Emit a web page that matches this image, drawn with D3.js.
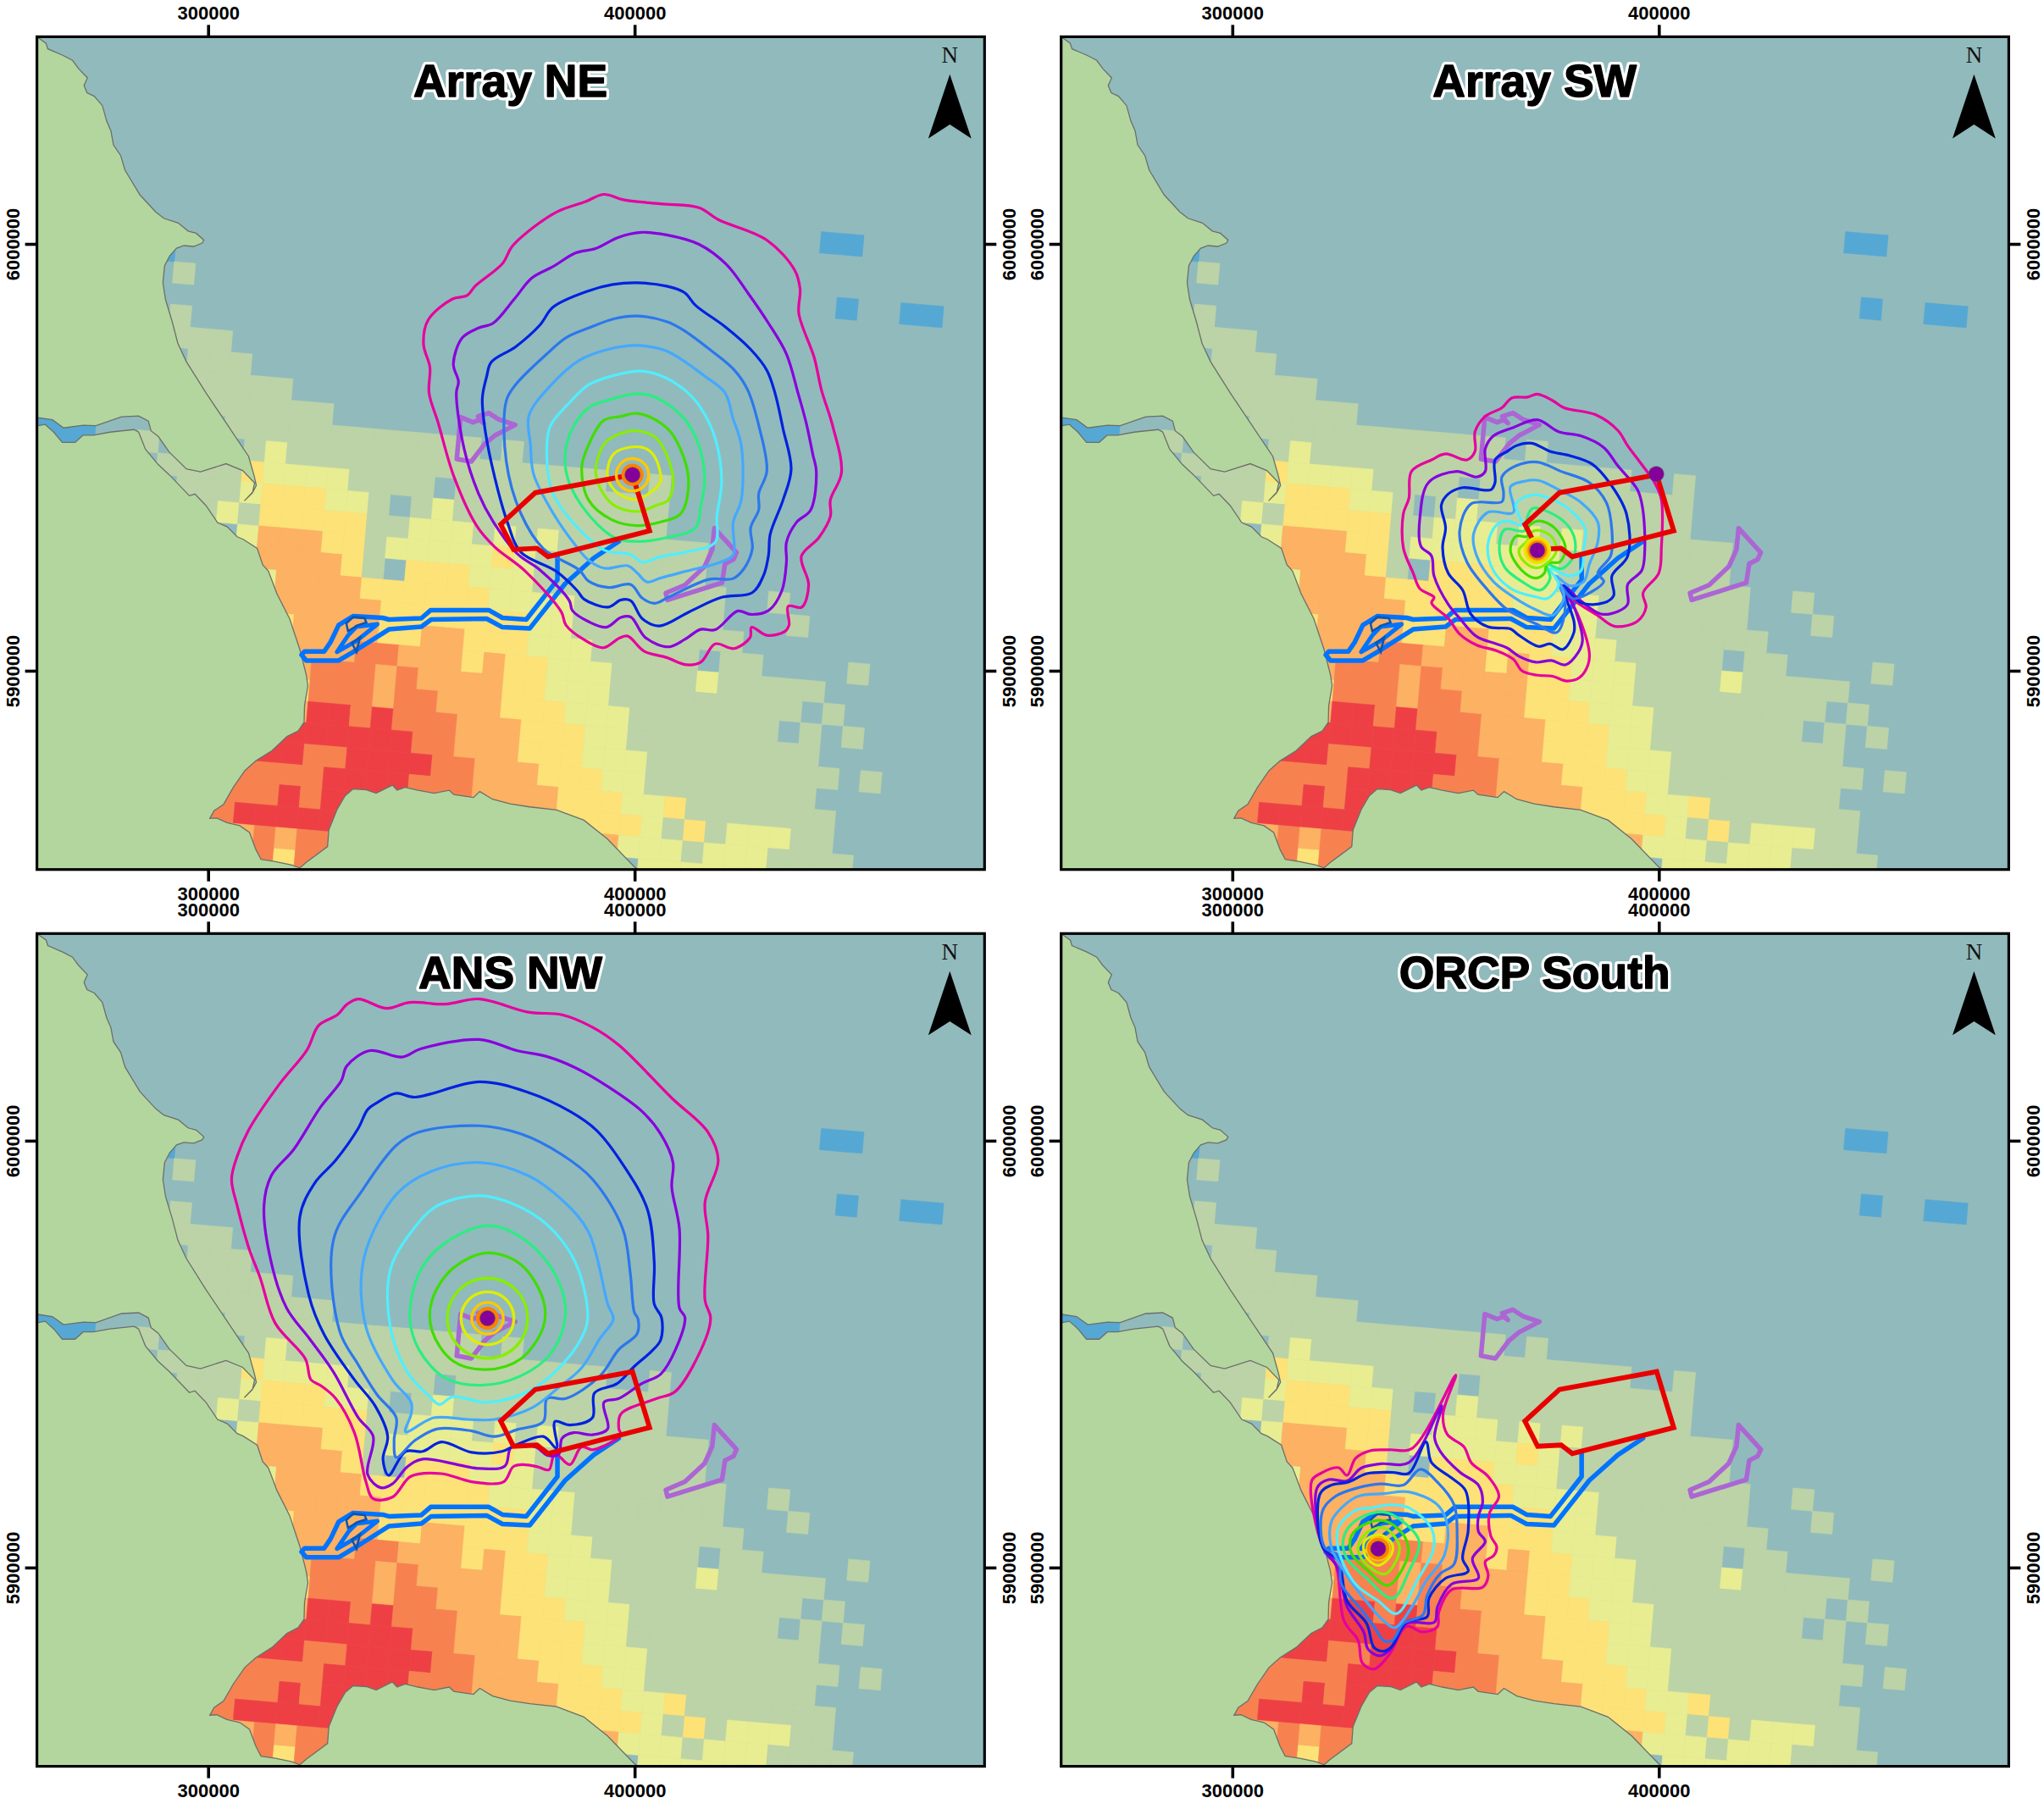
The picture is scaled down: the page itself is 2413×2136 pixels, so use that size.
<!DOCTYPE html>
<html>
<head>
<meta charset="utf-8">
<script src="https://cdnjs.cloudflare.com/ajax/libs/d3/7.8.5/d3.min.js"></script>
<style>
    html, body { margin: 0; padding: 0; background: #fff; }
    svg { display: block; }
    text { font-family: "Liberation Sans", Arial, sans-serif; }
</style>
</head>
<body>
<div id="chart"></div>
<script>
// All map values are in km (UTM easting / northing)
const xDomain = [259.86, 482.05];
const yDomain = [5853.43, 6048.53];
const xTicks = [300, 400];
const yTicks = [5900, 6000];

const classColors = { b: '#55a8d3', g: '#bcd3a7', y: '#e8ed92', Y: '#fde277', o: '#fdb162', r: '#f78250', R: '#ee4044' };
const levelColors = ['#e6009e', '#8800dd', '#0022e0', '#2c77ee', '#44a8ff', '#50eeff', '#2aee80', '#40dd00', '#88ee00', '#ddee00', '#ffc800', '#ff8000'];

// raster grid, 5 km cells, rotated ~5 deg
const gridOrigin = [292.06, 5995.85];
const gridEast = [5.0, -0.43];
const gridSouth = [-0.43, -4.98];

// [row, class, first column, last column]; anything not listed is the sea colour
const rasterRuns = [
    [-4,'b',30,31],
    [-1,'b',-1,-1],[-1,'b',31,31],[-1,'b',34,35],
    [0,'g',0,0],
    [2,'g',0,0],
    [3,'g',0,2],
    [4,'g',1,3],
    [5,'g',1,5],
    [6,'g',1,7],
    [7,'b',-8,-4],[7,'g',3,14],[7,'g',16,16],
    [8,'b',-8,-4],[8,'g',-1,-1],[8,'g',4,4],[8,'y',5,5],[8,'g',6,20],[8,'g',23,23],
    [9,'b',-8,-4],[9,'g',0,3],[9,'Y',4,4],[9,'y',5,8],[9,'g',9,12],[9,'g',14,23],
    [10,'g',1,3],[10,'y',4,4],[10,'Y',5,7],[10,'y',8,9],[10,'g',10,10],[10,'g',12,12],[10,'y',13,13],[10,'g',14,23],
    [11,'g',1,2],[11,'y',3,3],[11,'g',4,4],[11,'Y',5,9],[11,'g',10,11],[11,'y',12,14],[11,'g',15,15],[11,'y',16,16],[11,'g',17,17],[11,'y',18,18],[11,'g',19,25],
    [12,'y',4,4],[12,'o',5,7],[12,'Y',8,9],[12,'g',10,10],[12,'y',11,15],[12,'Y',16,16],[12,'y',17,17],[12,'g',18,25],
    [13,'y',4,4],[13,'o',5,8],[13,'Y',9,9],[13,'g',10,10],[13,'Y',12,14],[13,'y',15,17],[13,'g',18,26],[13,'g',29,29],
    [14,'y',5,5],[14,'o',6,9],[14,'Y',10,15],[14,'y',16,19],[14,'g',20,26],[14,'g',30,30],
    [15,'o',5,10],[15,'Y',11,17],[15,'y',18,19],[15,'g',20,27],
    [16,'Y',6,6],[16,'o',7,10],[16,'Y',11,12],[16,'o',13,14],[16,'Y',15,17],[16,'y',18,20],[16,'g',21,25],[16,'g',27,28],[16,'g',33,33],
    [17,'o',6,9],[17,'r',10,11],[17,'o',12,14],[17,'Y',15,15],[17,'o',16,16],[17,'Y',17,18],[17,'y',19,21],[17,'g',22,25],[17,'y',26,26],[17,'g',27,31],
    [18,'o',6,7],[18,'r',8,10],[18,'o',11,11],[18,'r',12,12],[18,'o',13,16],[18,'Y',17,18],[18,'y',19,21],[18,'g',22,30],[18,'g',32,32],
    [19,'Y',6,7],[19,'r',8,10],[19,'o',11,11],[19,'r',12,13],[19,'o',14,16],[19,'Y',17,19],[19,'y',20,22],[19,'g',23,29],[19,'g',31,31],[19,'g',33,33],
    [20,'o',6,7],[20,'R',8,9],[20,'r',10,10],[20,'R',11,11],[20,'r',12,14],[20,'o',15,17],[20,'Y',18,20],[20,'y',21,22],[20,'g',23,31],
    [21,'R',6,12],[21,'r',13,14],[21,'o',15,17],[21,'Y',18,20],[21,'y',21,23],[21,'g',24,32],[21,'g',34,34],
    [22,'R',5,7],[22,'r',8,9],[22,'R',10,13],[22,'r',14,15],[22,'o',16,18],[22,'Y',19,21],[22,'y',22,23],[22,'g',24,31],
    [23,'r',4,8],[23,'R',9,12],[23,'r',13,15],[23,'o',16,19],[23,'Y',20,22],[23,'y',23,24],[23,'Y',25,25],[23,'g',26,32],
    [24,'r',4,6],[24,'R',7,7],[24,'r',8,8],[24,'R',9,10],[24,'r',11,15],[24,'o',16,19],[24,'Y',20,23],[24,'y',24,24],[24,'g',25,25],[24,'Y',26,26],[24,'g',27,27],[24,'y',28,30],[24,'g',31,32],
    [25,'r',3,4],[25,'R',5,10],[25,'o',11,22],[25,'y',23,25],[25,'g',26,26],[25,'y',27,29],[25,'g',30,33],
    [26,'o',4,5],[26,'r',6,6],[26,'o',7,7],[26,'r',8,9],[26,'y',24,29],[26,'g',30,33],
    [27,'r',5,6],[27,'Y',7,7],[27,'r',8,9],[27,'y',24,29],[27,'g',30,33]
];

const northLand = [[259,6049],[260.3,6048.2],[262,6047],[262.4,6045.7],[265.9,6044.2],[268.2,6043],[269.6,6041.1],[271.7,6038.9],[270.9,6037.1],[271.6,6035.4],[273.3,6034.6],[275.2,6032.4],[276.2,6028.8],[277.2,6026.5],[277.8,6023.2],[279.5,6020.7],[280.5,6017.3],[284,6011.5],[287.7,6007.5],[289.6,6006],[293,6004.9],[295.3,6003],[297.2,6002.5],[299,6000.9],[298.6,6000.2],[296.6,5999.4],[294.3,5999.6],[292.6,5999],[291,5997.2],[289.8,5994.9],[289.4,5990.9],[290,5987],[291.6,5981.7],[292.9,5976.7],[294.9,5972.4],[299.5,5965.1],[304.8,5957.2],[309.5,5950.2],[310.8,5945.6],[311.3,5943.4],[310.5,5941.9],[308.5,5939.8],[310.4,5941.7],[310.9,5944],[308.1,5946.9],[304.2,5948.5],[298.2,5946.6],[294.9,5947.3],[290.9,5951.2],[288.3,5954.9],[286.6,5956.2],[286,5958.5],[283.7,5959.7],[279.7,5959.5],[273.7,5957.4],[270.7,5957.5],[266.1,5956.9],[263.5,5958.8],[260.1,5959.3],[259,5959.3]];

const southLand = [[259,5957.4],[260.1,5957.4],[261.8,5957.7],[263.8,5955.9],[265.8,5953.5],[268.8,5953.5],[270.7,5955.2],[273.1,5955.2],[277,5955.9],[282.6,5956.5],[283.7,5955.9],[285.3,5951.9],[288.3,5948.3],[290.9,5945.9],[295.6,5941],[296.9,5941.4],[299.5,5938.7],[302.2,5934.7],[304.5,5933.7],[306.8,5931.4],[308.2,5930.8],[311.5,5928.7],[312.8,5924.8],[314.1,5923.4],[315.1,5920.8],[316.1,5918.1],[319.1,5912.2],[321.5,5905],[323,5899.1],[323.4,5896.5],[322.6,5891.8],[322.5,5887.9],[321.1,5885.9],[318.5,5884.6],[315,5881.3],[311.2,5878.9],[308.6,5876.6],[305.9,5872.7],[303.6,5868.7],[301.4,5867.2],[300.4,5865.4],[302,5865.5],[304.4,5864.4],[307.4,5863.7],[309.7,5862.1],[311.2,5858.1],[312.4,5855.8],[315.8,5855.3],[319.6,5854.5],[321.5,5853.8],[323,5855.1],[328,5858.8],[328.3,5862.7],[330.2,5867.4],[332.1,5870.7],[334,5872.3],[337.1,5872.1],[339.4,5871.3],[343.2,5873.2],[344.3,5872],[346.2,5872.7],[349.2,5872],[353,5871.3],[356.5,5872],[357.6,5871],[362.2,5870.3],[363.7,5871.7],[366.7,5869.9],[370.8,5868.8],[375.4,5868.1],[381.7,5867.4],[388.1,5865],[393.6,5860.6],[400,5854],[401.4,5853],[259,5853]];

const arrayOutline = [[399.5,5945.9],[403.5,5932.8],[379.7,5926.7],[377.1,5928.7],[371.6,5928.4],[368.6,5934.3],[376.7,5941.7]];
const farmNorth = [[359.2,5959.4],[362.1,5958.2],[363.6,5958.8],[364.6,5958],[363.3,5959.6],[365.8,5960.4],[368.1,5958.9],[372,5957.6],[367.2,5955.1],[364.9,5953.2],[361.7,5949],[358.3,5949.6]];
const farmEast = [[418.7,5933.4],[423.9,5927.7],[423.2,5926.1],[421.2,5925.1],[420.5,5920.6],[407.7,5916.6],[407.3,5918.2],[411.8,5920.1],[416.4,5924.4],[418.2,5928.4]];
const cableRoute = [[381.9,5927],[381.9,5921.3],[374.6,5912],[369,5912.4],[365.8,5914.2],[352.2,5914.2],[350,5912.3],[342.4,5912],[340.9,5912.4],[334,5912.8],[330.6,5910.7],[328.7,5906.7],[327.2,5904.5],[322.6,5904.5],[321.9,5903.7],[323,5902.4],[330.6,5902.4],[334,5904.4],[342.4,5909.7],[350,5910.3],[352.3,5912],[365.3,5912.2],[369,5910.2],[375.4,5909.9],[383.7,5920.4],[390.4,5926.4],[396.3,5930.3]];
const cableLoop = [[330.2,5904.4],[332.9,5908.4],[334.8,5910.3],[339.7,5910.9],[334.8,5907]];
const landfallA = [[332.4,5911.1],[334,5912.6],[336.7,5912.3],[337.1,5911.3],[335.2,5910.7],[332.8,5909.3]];
const landfallB = [[333.7,5906.5],[335.6,5907.8],[334.8,5904.4]];

// contours per scenario, outermost first
const contoursNE = [
    [[392.7,6011.6],[397.6,6010.3],[406,6009.4],[415.1,6008.5],[419.6,6005.7],[431,6000.9],[437.5,5993.9],[438.8,5989.4],[438.5,5983.7],[442.1,5973.4],[443.8,5965.8],[446.4,5957.5],[448.5,5946.4],[445.9,5940],[445.9,5936.2],[443.2,5931.2],[439.1,5926.8],[440.8,5920.2],[439.2,5914.9],[436,5915.1],[436.2,5910.7],[435.2,5909.2],[431,5908.3],[427.4,5910.2],[427.1,5907.8],[423.3,5905.2],[418.9,5906.3],[415.5,5902],[412.2,5901.4],[407.5,5903.1],[402.2,5904.6],[398.4,5908.1],[396.5,5907.7],[392.7,5905.4],[388.1,5907.3],[383.9,5910.7],[382.8,5913.8],[374.4,5923.3],[367.2,5929],[363,5933.9],[357.7,5945.3],[353.9,5958.2],[351.8,5965.1],[352,5971.1],[350.5,5976.5],[351.6,5982.2],[357.3,5987.1],[360.7,5987.9],[362.6,5990.1],[369.1,5995.5],[371.2,5999.3],[376.7,6004.2],[382,6007.6],[388.5,6009.9]],
    [[401.4,6002.7],[407.5,6002.1],[415.1,5999.9],[421.5,5995.2],[426.5,5988.6],[431.4,5981.4],[435.6,5974.2],[438.3,5965.1],[440.2,5958.2],[441.8,5950.6],[442.6,5946.8],[441.3,5937.7],[437.9,5934.7],[435.6,5930.1],[435.6,5925.5],[434.5,5918.7],[431.4,5914.1],[427.2,5913.2],[424.2,5914],[418.9,5909.6],[415.5,5909.7],[411.7,5907.3],[407.9,5905.6],[402.5,5907.8],[399.1,5912.6],[396.8,5912.5],[393.4,5910.2],[389.2,5911.5],[385.4,5914.1],[384.7,5916.4],[377.8,5923.6],[372.5,5927.4],[366.8,5935],[363.4,5941.5],[360,5952.1],[358.2,5965.1],[358.7,5967.7],[357.5,5971.9],[359.6,5978],[363.4,5980.3],[366.8,5981.4],[371.8,5987.1],[375.9,5992],[380.9,5994.7],[386.2,5997.9],[390.8,5998.9],[396.1,6001.5]],
    [[394.9,5990.5],[400.6,5990.9],[407.5,5990.1],[411.7,5988.6],[414.3,5985.6],[421.2,5980.6],[427.2,5975.3],[431,5970.4],[432.9,5965.1],[434.8,5956.7],[436.7,5947.2],[434.8,5940],[431.8,5932],[431.4,5927.1],[430.3,5922.5],[427.6,5918.3],[420.4,5917.2],[412.8,5913.8],[405.8,5910.5],[401.8,5912.2],[399.1,5916.4],[396.8,5916.6],[393.8,5914.9],[388.1,5916.8],[386.6,5918.7],[381.6,5923.3],[373.3,5927.8],[370.2,5934.7],[367.2,5945.3],[364.9,5956.7],[364.3,5963.9],[365.3,5968.9],[366.4,5972.3],[372.1,5975.9],[377.8,5981],[380.9,5985.2],[389.2,5989]],
    [[400.6,5983.1],[407.5,5981.8],[411.3,5979.9],[418.1,5974.9],[423.4,5970.4],[426.5,5965.8],[429.1,5957.5],[431,5946.8],[429.1,5941.5],[429.1,5937.7],[427.2,5933.5],[427.6,5928.6],[425.7,5924],[423.1,5921.6],[417.4,5921.4],[407.9,5917.2],[404.8,5915.8],[401.8,5917],[399.1,5920.2],[393.8,5919.5],[389.2,5921],[387,5923.6],[378.6,5928.6],[373.3,5936.9],[369.9,5949.1],[369.9,5963.2],[372.1,5967],[379.4,5974.2],[383.9,5978],[389.2,5980.3],[395.3,5982.5]],
    [[400.6,5976.2],[407.5,5974.9],[416.6,5968.9],[421.2,5965.1],[423.1,5959],[425,5952.9],[425,5940],[423.1,5934.7],[423.1,5927.1],[420,5925.4],[412,5923.3],[406,5921.7],[402.9,5920.8],[400.6,5922.9],[398.4,5924.6],[393,5924],[389.2,5925.9],[386.2,5929.3],[380.9,5936.9],[376.3,5946.1],[375.6,5952.9],[375.2,5959.7],[380.1,5966.6],[387,5972.7],[393.8,5975.3]],
    [[401.4,5970.2],[406,5969.2],[411.7,5965.8],[415.5,5961.6],[418.9,5954.4],[420.4,5944.5],[419.3,5936.2],[418.9,5930.1],[412,5927.8],[406,5926.7],[401.8,5925.4],[399.1,5927.2],[393,5928.2],[387.7,5932.4],[380.9,5941.5],[379.4,5952.1],[380.3,5957.5],[384.7,5962.8],[389.2,5967],[395.3,5969.2]],
    [[400.6,5964.9],[405.2,5963.9],[411.7,5959],[415.5,5951.4],[416.4,5944.5],[415.5,5938.5],[414.3,5933.5],[407.5,5931.2],[401,5930.3],[395.3,5931.2],[387.7,5938.5],[383.9,5946.8],[384.7,5955.2],[389.2,5961.6],[393.8,5963.4]],
    [[400.6,5960.3],[405.2,5958.6],[409,5955.2],[412.6,5945.3],[410.9,5936.9],[406.7,5935],[400.6,5934],[394.6,5935.4],[389.2,5940],[387.6,5947.6],[389.2,5952.9],[392.7,5958.6],[396.8,5959.6]],
    [[400.6,5956.2],[405.2,5954.4],[409,5945.3],[407.9,5940],[405.2,5938.8],[400.6,5937.3],[394.6,5939.2],[390.9,5946.1],[393,5953.3],[396.8,5955.6]],
    [[401.4,5952.4],[404.4,5950.6],[406.1,5944.5],[404.4,5942.3],[399.9,5940.1],[395.3,5942.3],[393.6,5946.1],[395.3,5951]]
];
const contoursSW = [
    [[371.5,5964.8],[375.1,5963.3],[377.8,5961.6],[385.1,5960],[390.4,5956.3],[392.7,5952.7],[395.7,5948.7],[399,5944.1],[400.6,5940.1],[400.6,5928.8],[400,5922.9],[396.3,5918.2],[397,5914.9],[395,5911.6],[389.7,5910.4],[385.7,5912.9],[380.4,5916.3],[378.1,5918.6],[381.1,5912.9],[383.7,5904.3],[383.4,5901.4],[381.4,5898.4],[378.4,5897.6],[375.1,5898.7],[371.2,5899],[367.9,5900],[365.9,5902.7],[361.9,5904.7],[357.3,5906],[353.3,5908.6],[350.6,5912.3],[346.7,5915.9],[347.3,5917.2],[344,5919.2],[342.4,5922.9],[340.1,5928.8],[340.1,5936.8],[341.4,5940.4],[342,5946.7],[346.7,5949.4],[350,5950.8],[355,5949.4],[356.9,5951.4],[356.9,5956],[359.3,5959.6],[363.2,5961.6],[365.5,5963.9],[369.2,5964.1]],
    [[371.5,5958.8],[376.5,5956],[381.8,5955],[387.1,5952.3],[390.4,5948],[395,5942.4],[396.2,5938.1],[396.7,5928.2],[396,5923.5],[392.7,5920.2],[392.7,5915.6],[390.4,5913.9],[386.4,5913.3],[381.8,5916.3],[377.8,5919.9],[380.4,5914.3],[382.1,5907],[381.1,5904.3],[378.1,5901.4],[374.8,5902.4],[371.2,5902],[367.2,5903.4],[364.5,5905.3],[361.9,5906.3],[357.3,5908],[353.3,5912.3],[350.6,5915.6],[347.3,5922.2],[346.7,5926.9],[344.2,5929.2],[344,5936.1],[346,5944.1],[352.6,5946.7],[357.3,5945.4],[359.3,5946.7],[359.3,5952],[361.2,5955],[365.9,5957]],
    [[370.2,5953.3],[374.5,5951.4],[379.1,5950.4],[384.4,5948.4],[388.4,5944.1],[392.4,5936.8],[392.7,5926.9],[389,5922.2],[389.4,5917.6],[387.1,5915.9],[381.8,5915.9],[377.5,5919.9],[380.1,5911.6],[380.1,5909],[377.5,5905],[374.5,5906.3],[371.8,5905.7],[367.2,5908.3],[365.2,5909.8],[359.9,5910.3],[355.9,5913.3],[354,5918.9],[350.6,5922.9],[349.3,5928.8],[350,5933.5],[349,5938.8],[350.6,5941.4],[354,5942.9],[360.6,5942.4],[361.6,5944.1],[361.6,5949.4],[364.5,5951.4],[366.5,5952.7]],
    [[371.5,5948.9],[377.1,5946.7],[383.7,5944.1],[387.7,5939.4],[389,5932.8],[388.7,5926.9],[385.7,5922.9],[387.1,5920.9],[384.4,5918.6],[379.8,5916.9],[376.8,5920.2],[378.1,5915.6],[376.1,5909],[371.2,5911],[364.5,5914.3],[359.9,5918.9],[355,5925.5],[353.3,5932.8],[356,5939.1],[363.2,5939.6],[363.6,5941.7],[363.2,5945.4],[366.5,5948]],
    [[371.8,5944.6],[376.5,5942.4],[381.8,5939.4],[385.7,5934.8],[385.7,5930.2],[383.7,5924.9],[382.4,5920.9],[379.1,5919.9],[375.8,5922.2],[377.8,5917.6],[375.1,5913],[371.2,5914.3],[366.5,5916.9],[361.2,5920.9],[357.3,5926.9],[356.6,5932.2],[359.9,5937.1],[365.9,5937.1],[365.2,5943.1],[368.5,5944.4]],
    [[370.5,5941.2],[375.1,5940.1],[379.8,5937.1],[382.8,5933.1],[382.4,5928.8],[381.8,5923.5],[379.1,5922.2],[374.5,5923.9],[376.5,5920.2],[373.8,5916.9],[371.2,5917.3],[365.9,5918.9],[361.2,5923.5],[359.9,5929.5],[361.9,5934.1],[364.5,5935.1],[367.9,5934.1],[366.5,5939.1]],
    [[370.5,5938.1],[377.1,5935.5],[380.1,5931.5],[380.1,5926.9],[377.1,5923.9],[373.8,5924.9],[374.5,5921.6],[372.2,5918.9],[367.9,5920.9],[363.9,5924.2],[362.6,5928.8],[363.9,5933.1],[368.5,5932.8],[369.2,5936.1]],
    [[371.8,5935.1],[375.5,5933.5],[378.1,5928.8],[376.8,5925.5],[373.8,5925.2],[373.2,5922.9],[371.2,5921.7],[367.9,5923.5],[365.2,5928.2],[366.5,5931.5],[369.2,5931.5],[369.5,5933.8]],
    [[371.8,5932.9],[374.8,5931.5],[376,5928.2],[373.8,5925.2],[371.2,5924.1],[368.5,5925.5],[367.2,5928.2],[369.2,5930.5],[370.2,5932.5]]
];
const contoursNW = [
    [[335.2,6033.2],[341.8,6031],[347.2,6032.4],[355.6,6032],[363.6,6033.2],[375.1,6030.1],[383,6029.5],[390.1,6026.6],[396.3,6022.4],[408.7,6010],[417.2,6002],[419.6,5995.4],[416.5,5985.6],[417.2,5977.7],[416.5,5962.6],[417.8,5958.6],[416.7,5953.7],[409.6,5941.3],[405.2,5939.6],[396.8,5936],[396.3,5932.5],[396.8,5931.1],[392.8,5928.5],[390.1,5927.6],[387.5,5928.2],[384.8,5924.1],[381.3,5926.7],[379.9,5922.9],[377.3,5923.6],[373.7,5924.1],[371.5,5923.6],[369.3,5920.1],[361.8,5920.1],[354.7,5922],[347.6,5921.4],[343.2,5916.5],[338.7,5916.1],[337,5920.1],[334.3,5931.6],[329.9,5939.6],[326.3,5942.7],[324.1,5944],[322.8,5948.9],[315.7,5957.3],[312.2,5967.9],[309.5,5975],[306.8,5984.8],[305.5,5991],[306.8,5996.3],[309.5,6002.5],[316.6,6013.1],[323.2,6021.3],[325.9,6027],[330.3,6029.5],[332.5,6031.9]],
    [[337.9,6021.1],[345.4,6019.6],[349.8,6021.5],[363.6,6023.7],[372.4,6021.1],[379.5,6019.7],[386.1,6017.1],[393.7,6012.7],[401.7,6006.9],[406.1,6001.6],[409,5994.9],[408.7,5989.2],[410.5,5979.4],[410.5,5960.8],[411.8,5958.6],[409.6,5951.1],[406.1,5945.3],[401.7,5943.1],[396.3,5939.6],[392.8,5938.7],[393.7,5932.5],[390.1,5931.1],[385.7,5931.6],[383,5930.3],[382.2,5926.5],[379.5,5926.3],[376.8,5928.2],[371.1,5928.2],[369.6,5923.8],[363.6,5923.2],[350.3,5925.4],[346.7,5923.6],[343.2,5919.6],[340.5,5918.7],[337.4,5921.8],[338.7,5930.7],[335.2,5935.1],[329.4,5945.8],[323.7,5953.7],[318.4,5960.8],[314.8,5971.5],[313.1,5984.8],[314.8,5991.8],[320.1,5998],[326.3,6007.8],[331.2,6014],[332.5,6017.5]],
    [[339.6,6008.9],[344.1,6011.1],[348.5,6010.2],[363.6,6013.8],[375.1,6011.3],[384.8,6006.9],[391,6002.5],[397.2,5994.5],[403,5983.9],[404.6,5971.5],[404.6,5961.7],[406.3,5958.6],[406.1,5953.3],[403.9,5950.6],[399.9,5947.1],[395.9,5943.1],[390.6,5940.9],[390.1,5935.1],[384.8,5933.4],[381.3,5934.2],[381.7,5928],[378.6,5930.7],[372.4,5928.8],[368.9,5927.2],[361.8,5927],[354.7,5929.4],[350.3,5927.2],[346.3,5927.2],[342.3,5921.6],[341,5925.4],[342.1,5930.7],[339.2,5937.8],[334.3,5944],[327.2,5954.6],[323.7,5963.5],[321.5,5982.1],[325,5990.1],[329.9,5995.4],[335.2,6002.9],[337.4,6007.3]],
    [[349.4,6002],[363.6,6003.5],[373.3,6001.6],[383,5996.7],[390.1,5991],[397.2,5979.4],[399,5968.8],[399.9,5959.9],[400.8,5958.2],[400.6,5954.8],[396.3,5951.1],[391.9,5944.9],[383.9,5939.6],[379.5,5939.6],[378.6,5934.2],[372.4,5932.3],[367.1,5930.7],[361.8,5932],[353.8,5932.5],[348.5,5929.8],[344.1,5925.8],[343.6,5929.8],[344.1,5935.1],[339.6,5940.5],[335.2,5947.5],[330.8,5955.5],[329.4,5976.8],[336.1,5988.3],[344.1,5998.9]],
    [[363.6,5994.9],[375.1,5991.8],[383,5986.1],[389.2,5978.6],[393.7,5961.7],[395,5958.2],[391.9,5953.7],[387.5,5946.7],[382.2,5942.2],[375.9,5937.4],[367.1,5934.7],[360.9,5934.7],[352.9,5935.1],[346.3,5931.8],[347.6,5936],[347.6,5938.7],[343.2,5944],[337,5956.4],[336.5,5972.3],[344.1,5987.4],[352,5992.7]],
    [[363.6,5987.1],[371.5,5985.2],[379.5,5980.3],[386.1,5971.5],[389,5958.6],[387.5,5953.7],[382.2,5946.7],[375.1,5941.3],[365.3,5938.7],[357.4,5940],[354.2,5938.2],[352,5940],[346.7,5945.8],[342.7,5956.4],[342.7,5969.7],[347.6,5978.6],[353.8,5984.8]],
    [[365.5,5980.1],[374.2,5976.8],[381.3,5968.8],[383.8,5959.5],[380.4,5950.2],[373.3,5944.9],[364,5942.7],[355.6,5944.4],[349.4,5951.1],[347.3,5958.6],[349.4,5968.8],[354.7,5975.4]],
    [[365.5,5973.7],[373.3,5971],[378.6,5962.6],[378.6,5956.4],[373.3,5948.9],[365.3,5946.4],[357.4,5948.4],[352.5,5955.5],[352.5,5962.6],[357.4,5970.1]]
];
const contoursSouth = [
    [[352.4,5945.1],[349.4,5935.9],[350.4,5931.2],[354.3,5928.3],[356,5924.6],[360,5921.3],[362.5,5916.7],[360.3,5912.7],[360.6,5907.4],[362,5904.8],[361.3,5902.8],[359.3,5901.4],[360,5898.1],[358.7,5895.4],[351.4,5894.8],[348.4,5889.5],[348.1,5886.2],[344.7,5884.9],[340.8,5886.2],[336.8,5879.6],[333.2,5876.2],[330.5,5877.6],[329.5,5882.9],[326.2,5887.5],[324.2,5900.8],[321.2,5904.8],[318.6,5920.3],[320.6,5922],[324.9,5923.4],[326.9,5921.6],[328.9,5925.6],[332.5,5927.4],[336.8,5927.6],[342.1,5927.9]],
    [[349.1,5937.9],[347.4,5930.6],[348.7,5927.3],[353.4,5922.3],[357.7,5919.3],[358.7,5915.3],[357.7,5912],[357.7,5908.4],[359.3,5906.1],[356.3,5902.1],[357.7,5897.5],[351.4,5896.1],[348.1,5890.8],[347.4,5887.2],[340.8,5886.9],[336.8,5880.6],[334.5,5879.3],[331.8,5880.9],[330.8,5884.9],[326.9,5890.9],[324.6,5900.1],[321.2,5904.8],[319.9,5918.7],[322.6,5920.6],[326.9,5920.3],[330.2,5923.3],[334.8,5924.3],[341.4,5924.6]],
    [[345.4,5929.4],[346.7,5924.6],[351.4,5921],[354.7,5918],[355.3,5908.7],[354,5902.1],[355.3,5899.1],[350,5897.5],[346.1,5892.8],[345.7,5888.5],[340.8,5887.2],[337.5,5881.6],[335.5,5880.4],[333.2,5881.3],[331.5,5886.9],[326.9,5892.2],[324.9,5901.4],[321.2,5904.8],[320.6,5917.3],[323.2,5919.3],[327.2,5920],[331.5,5922],[337.5,5922.3],[341.4,5922.1]],
    [[344.1,5923],[348.1,5920],[352,5914.7],[352.7,5908.1],[352,5900.8],[348.7,5898.5],[345.7,5893.5],[344.7,5888.9],[340.1,5886.9],[337.5,5882.9],[335.5,5882.9],[333.2,5886.2],[330.2,5890.2],[325.6,5896.1],[324.9,5902.8],[321.6,5904.8],[321.2,5913.4],[324.2,5916.7],[329.5,5918.7],[334.8,5919.6],[340.1,5919.3]],
    [[341.4,5917.7],[348.1,5914.7],[350.4,5910],[349.7,5902.8],[345.4,5896.8],[342.1,5890.8],[338.1,5885.9],[335.5,5887.5],[330.8,5892.8],[325.6,5900.1],[323.2,5904.8],[323.2,5910.7],[325.6,5914],[329.5,5916.7],[335.5,5917.3]],
    [[336.8,5914.7],[341.4,5914],[346.7,5909.1],[347.1,5904.1],[343.4,5897.1],[338.5,5889.2],[334.2,5892.2],[328.9,5896.1],[324.9,5904.1],[324.9,5909.4],[328.9,5913.4],[332.8,5914]],
    [[335.5,5913],[340.1,5910.7],[343.8,5906.1],[341.4,5899.1],[337.6,5892.8],[331.5,5897.5],[326.5,5902.8],[326.2,5907.4],[329.5,5911.4]],
    [[335.5,5911],[339.8,5908.1],[341.3,5904.1],[340.1,5900.1],[336.5,5895.8],[331.5,5899.5],[327.9,5903.4],[327.9,5907.4],[330.8,5910]],
    [[335.5,5909.3],[338.8,5906.1],[339.1,5903.4],[335.8,5898.5],[330.8,5901.4],[329.5,5904.8],[331.5,5908.1]],
    [[334.5,5907.7],[337.5,5905.4],[337.1,5902.8],[334.2,5900.5],[331.2,5902.8],[331,5906.1]]
];

// innermost levels are plain rings: [level, radius km]
const ringsNE = [[10, 3.8], [11, 2.1]];
const ringsSW = [[9, 2.9], [10, 2.4], [11, 1.8]];
const ringsNW = [[8, 9.4], [9, 6.2], [10, 3.7], [11, 2.2]];
const ringsSouth = [[10, 2.6], [11, 2.1]];

const panelWidth = 1118.7;
const panelHeight = 983.3;

const panels = [
    { title: 'Array NE', left: 43.6, top: 43.4, titleY: 70.5, contours: contoursNE, rings: ringsNE, source: [399.5, 5945.9], extra: [] },
    { title: 'Array SW', left: 1252.7, top: 43.4, titleY: 70.5, contours: contoursSW, rings: ringsSW, source: [371.5, 5928.2], extra: [[399.4, 5946.1]] },
    { title: 'ANS NW', left: 43.6, top: 1102.3, titleY: 64.5, contours: contoursNW, rings: ringsNW, source: [365.5, 5958.4], extra: [] },
    { title: 'ORCP South', left: 1252.7, top: 1102.3, titleY: 64.5, contours: contoursSouth, rings: ringsSouth, source: [334.2, 5904.4], extra: [] }
];

const svg = d3.select('#chart').append('svg')
    .attr('width', 2413)
    .attr('height', 2136)
    .style('background', '#fff');

const x = d3.scaleLinear().domain(xDomain).range([0, panelWidth]);
const y = d3.scaleLinear().domain(yDomain).range([panelHeight, 0]);
const toPath = d3.line().x(d => x(d[0])).y(d => y(d[1]));
const closedPath = pts => toPath(pts) + 'Z';
const smoothPath = d3.line().x(d => x(d[0])).y(d => y(d[1])).curve(d3.curveCatmullRomClosed.alpha(0.5));

// Expand the runs to single cells
const cells = [];
rasterRuns.forEach(([row, cls, from, to]) => {
    d3.range(from, to + 1).forEach(col => cells.push({ row, col, cls }));
});

function cellCorners(col, row) {
    const corner = (i, j) => [
        gridOrigin[0] + i * gridEast[0] + j * gridSouth[0],
        gridOrigin[1] + i * gridEast[1] + j * gridSouth[1]
    ];
    return [corner(col, row), corner(col + 1, row), corner(col + 1, row + 1), corner(col, row + 1)];
}

panels.forEach((p, idx) => {
    const g = svg.append('g').attr('transform', `translate(${p.left},${p.top})`);

    g.append('clipPath').attr('id', 'clip' + idx)
        .append('rect').attr('width', panelWidth).attr('height', panelHeight);

    const map = g.append('g').attr('clip-path', `url(#clip${idx})`);

    map.append('rect').attr('width', panelWidth).attr('height', panelHeight).attr('fill', '#91babc');

    map.selectAll('.cell').data(cells).enter().append('path')
        .attr('class', 'cell')
        .attr('d', d => closedPath(cellCorners(d.col, d.row)))
        .attr('fill', d => classColors[d.cls])
        .attr('stroke', d => classColors[d.cls])
        .attr('stroke-width', 0.6);

    map.selectAll('.land').data([northLand, southLand]).enter().append('path')
        .attr('class', 'land')
        .attr('d', closedPath)
        .attr('fill', '#b3d69e')
        .attr('stroke', '#6b6f6b')
        .attr('stroke-width', 1.3);

    map.selectAll('.farm').data([farmNorth, farmEast]).enter().append('path')
        .attr('class', 'farm')
        .attr('d', closedPath)
        .attr('fill', 'none')
        .attr('stroke', '#ab66d4')
        .attr('stroke-width', 5.5)
        .attr('stroke-linejoin', 'round');

    map.append('path').attr('d', toPath(cableRoute))
        .attr('fill', 'none').attr('stroke', '#0073ff').attr('stroke-width', 5.5).attr('stroke-linejoin', 'round').attr('stroke-linecap', 'round');
    map.append('path').attr('d', closedPath(cableLoop))
        .attr('fill', 'none').attr('stroke', '#0073ff').attr('stroke-width', 5).attr('stroke-linejoin', 'round');
    map.selectAll('.landfall').data([landfallA, landfallB]).enter().append('path')
        .attr('class', 'landfall')
        .attr('d', closedPath)
        .attr('fill', 'none')
        .attr('stroke', '#0a55b0')
        .attr('stroke-width', 2.5);

    map.selectAll('.contour').data(p.contours).enter().append('path')
        .attr('class', 'contour')
        .attr('d', smoothPath)
        .attr('fill', 'none')
        .attr('stroke', (d, i) => levelColors[i])
        .attr('stroke-width', 3.2);

    map.append('path').attr('d', closedPath(arrayOutline))
        .attr('fill', 'none').attr('stroke', '#e80000').attr('stroke-width', 5.8).attr('stroke-linejoin', 'miter');

    map.selectAll('.ring').data(p.rings).enter().append('circle')
        .attr('class', 'ring')
        .attr('cx', x(p.source[0]))
        .attr('cy', y(p.source[1]))
        .attr('r', d => x(xDomain[0] + d[1]) - x(xDomain[0]))
        .attr('fill', 'none')
        .attr('stroke', d => levelColors[d[0]])
        .attr('stroke-width', d => d[0] === 11 ? 5 : 3.4);

    map.selectAll('.dot').data([p.source].concat(p.extra)).enter().append('circle')
        .attr('class', 'dot')
        .attr('cx', d => x(d[0]))
        .attr('cy', d => y(d[1]))
        .attr('r', 9)
        .attr('fill', '#85009a')
        .attr('stroke', '#555')
        .attr('stroke-width', 0.6);

    // Title with white halo, then a thin black outline to fatten the glyphs
    const title = g.append('text')
        .attr('x', x(xDomain[0]) + 559)
        .attr('y', p.titleY)
        .attr('text-anchor', 'middle')
        .style('font-size', '53.5px')
        .style('font-weight', 'bold')
        .style('paint-order', 'stroke')
        .attr('stroke', '#fff')
        .attr('stroke-width', 8)
        .attr('stroke-linejoin', 'round')
        .attr('fill', '#000')
        .text(p.title);
    title.clone(true)
        .attr('stroke', '#000')
        .attr('stroke-width', 1.4);

    // North arrow
    const na = g.append('g').attr('transform', `translate(${panelWidth - 41},0)`);
    na.append('text')
        .attr('y', 30.7)
        .attr('text-anchor', 'middle')
        .style('font-family', '"Liberation Serif", serif')
        .style('font-size', '27px')
        .attr('fill', '#111')
        .text('N');
    na.append('path').attr('d', 'M0,44.4L25.4,120L0,103.7L-25.4,120Z').attr('fill', '#000');

    // Frame and ticks
    g.append('rect')
        .attr('width', panelWidth).attr('height', panelHeight)
        .attr('fill', 'none').attr('stroke', '#000').attr('stroke-width', 3.2);

    const fmt = d => d3.format('d')(d * 1000);
    const axes = [
        { axis: d3.axisTop(x).tickValues(xTicks), t: '' },
        { axis: d3.axisBottom(x).tickValues(xTicks), t: `translate(0,${panelHeight})` },
        { axis: d3.axisLeft(y).tickValues(yTicks), t: '' },
        { axis: d3.axisRight(y).tickValues(yTicks), t: `translate(${panelWidth},0)` }
    ];
    axes.forEach((a, k) => {
        const ag = g.append('g').attr('transform', a.t)
            .call(a.axis.tickFormat(fmt).tickSize(14).tickPadding(0));
        ag.select('.domain').remove();
        ag.selectAll('line').attr('stroke', '#000').attr('stroke-width', 3.6);
        const labels = ag.selectAll('text')
            .style('font-size', '22px')
            .style('font-weight', 'bold')
            .attr('fill', '#000');
        if (k === 0) labels.attr('dy', null).attr('y', -20.5);
        if (k === 1) labels.attr('dy', null).attr('y', 36.5);
        if (k >= 2) {
            const off = k === 2 ? -20.5 : 36.5;
            labels.attr('dy', null).attr('x', null).attr('y', off)
                .attr('text-anchor', 'middle')
                .attr('transform', 'rotate(-90)');
        }
    });
});
</script>
</body>
</html>
